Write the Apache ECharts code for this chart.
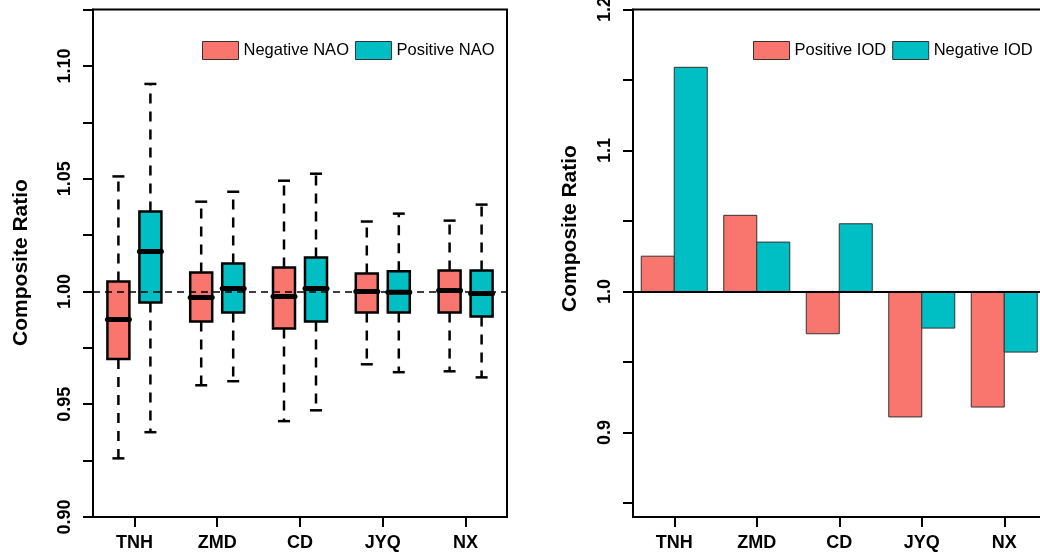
<!DOCTYPE html>
<html>
<head>
<meta charset="utf-8">
<script src="https://cdn.jsdelivr.net/npm/echarts@6/dist/echarts.min.js"></script>
<style>
html,body{margin:0;padding:0;background:#fff;}
#chart{width:1040px;height:559px;}
</style>
</head>
<body>
<div id="chart"></div>
<script>
// ---------- data ----------
const categories = ['TNH', 'ZMD', 'CD', 'JYQ', 'NX'];
// box stats: [min, q1, median, q3, max]
const negativeNAO = [
  [0.926, 0.970, 0.9876, 1.0044, 1.051],
  [0.9584, 0.9867, 0.9973, 1.0084, 1.0398],
  [0.9425, 0.9836, 0.9978, 1.0106, 1.0491],
  [0.9677, 0.9907, 1.0000, 1.0080, 1.0310],
  [0.9646, 0.9907, 1.0004, 1.0093, 1.0314]
];
const positiveNAO = [
  [0.9376, 0.9951, 1.0177, 1.0354, 1.092],
  [0.9602, 0.9907, 1.0013, 1.0124, 1.0442],
  [0.9473, 0.9867, 1.0013, 1.0150, 1.0522],
  [0.9642, 0.9907, 0.9996, 1.0089, 1.0345],
  [0.9619, 0.9889, 0.9991, 1.0093, 1.0385]
];
const positiveIOD = [1.025, 1.054, 0.970, 0.911, 0.918];
const negativeIOD = [1.159, 1.035, 1.048, 0.974, 0.957];

const naoTicks = [0.9, 0.925, 0.95, 0.975, 1.0, 1.025, 1.05, 1.075, 1.1, 1.125];
const naoLabels = [0.9, 0.95, 1.0, 1.05, 1.1];
const iodTicks = [0.85, 0.9, 0.95, 1.0, 1.05, 1.1, 1.15, 1.2];
const iodLabels = [0.9, 1.0, 1.1, 1.2];
const naoReference = 1.0;
const iodBaseline = 1.0;

// ---------- styles ----------
const RED = '#F8766D';
const TEAL = '#00BFC4';
const FONT = 'Liberation Sans, Arial, Helvetica, sans-serif';

function boxRenderer(offset, color) {
  return function (params, api) {
    const i = api.value(0);
    const cx = api.coord([i, api.value(3)])[0] + offset;
    const yMin = api.coord([i, api.value(1)])[1];
    const yQ1 = api.coord([i, api.value(2)])[1];
    const yMed = api.coord([i, api.value(3)])[1];
    const yQ3 = api.coord([i, api.value(4)])[1];
    const yMax = api.coord([i, api.value(5)])[1];
    const hw = 11, capHw = 6;
    const dash = {stroke: '#000', lineWidth: 2.5, lineDash: [10, 8], fill: null};
    const solid = {stroke: '#000', lineWidth: 2.5, fill: null};
    return {
      type: 'group',
      children: [
        {type: 'line', shape: {x1: cx, y1: yQ3, x2: cx, y2: yMax}, style: dash},
        {type: 'line', shape: {x1: cx, y1: yQ1, x2: cx, y2: yMin}, style: dash},
        {type: 'line', shape: {x1: cx - capHw, y1: yMax, x2: cx + capHw, y2: yMax}, style: solid},
        {type: 'line', shape: {x1: cx - capHw, y1: yMin, x2: cx + capHw, y2: yMin}, style: solid},
        {type: 'rect', shape: {x: cx - hw, y: yQ3, width: 2 * hw, height: yQ1 - yQ3},
          style: {fill: color, stroke: '#000', lineWidth: 2.5}},
        {type: 'line', shape: {x1: cx - hw, y1: yMed, x2: cx + hw, y2: yMed},
          style: {stroke: '#000', lineWidth: 5, lineCap: 'round', fill: null}}
      ]
    };
  };
}

function barRenderer(offset, color) {
  return function (params, api) {
    const i = api.value(0);
    const base = api.coord([i, iodBaseline]);
    const top = api.coord([i, api.value(1)]);
    const w = 33;
    const cx = base[0] + offset;
    const y0 = Math.min(base[1], top[1]);
    const h = Math.abs(base[1] - top[1]);
    return {
      type: 'rect',
      shape: {x: cx - w / 2, y: y0, width: w, height: h},
      style: {fill: color, stroke: '#333', lineWidth: 1}
    };
  };
}

const xAxisCommon = {
  type: 'category',
  data: categories,
  boundaryGap: true,
  axisLine: {show: true, lineStyle: {color: '#000', width: 2}},
  axisTick: {show: true, alignWithLabel: true, length: 10, lineStyle: {color: '#000', width: 2}},
  axisLabel: {color: '#000', fontWeight: 'bold', fontSize: 18, fontFamily: FONT, margin: 17},
  splitLine: {show: false}
};

const chart = echarts.init(document.getElementById('chart'), null, {renderer: 'canvas'});
chart.setOption({
  animation: false,
  backgroundColor: '#fff',
  textStyle: {fontFamily: FONT},
  grid: [
    {left: 93, top: 9.5, width: 414, height: 507.5, show: true, borderColor: '#000', borderWidth: 2,
      backgroundColor: 'transparent', containLabel: false, outerBoundsMode: 'none'},
    {left: 633, top: 9.5, width: 412.5, height: 507.5, show: true, borderColor: '#000', borderWidth: 2,
      backgroundColor: 'transparent', containLabel: false, outerBoundsMode: 'none'}
  ],
  xAxis: [
    Object.assign({gridIndex: 0}, xAxisCommon),
    Object.assign({gridIndex: 1}, xAxisCommon)
  ],
  yAxis: [
    {
      gridIndex: 0, type: 'value', min: 0.9, max: 1.125,
      splitLine: {show: false},
      axisLine: {show: true, lineStyle: {color: '#000', width: 2}},
      axisTick: {show: true, length: 10, customValues: naoTicks, lineStyle: {color: '#000', width: 2}},
      axisLabel: {customValues: naoLabels, rotate: 90, color: '#000', fontWeight: 'bold', fontSize: 18, fontFamily: FONT, margin: 19,
        formatter: v => Number(v).toFixed(2)}
    },
    {
      gridIndex: 1, type: 'value', min: 0.84, max: 1.2,
      splitLine: {show: false},
      axisLine: {show: true, lineStyle: {color: '#000', width: 2}},
      axisTick: {show: true, length: 10, customValues: iodTicks, lineStyle: {color: '#000', width: 2}},
      axisLabel: {customValues: iodLabels, rotate: 90, color: '#000', fontWeight: 'bold', fontSize: 18, fontFamily: FONT, margin: 19,
        formatter: v => Number(v).toFixed(1)}
    }
  ],
  legend: [
    {
      left: 202, top: 41, padding: 0, itemWidth: 36, itemHeight: 18, itemGap: 6, icon: 'rect',
      textStyle: {color: '#000', fontSize: 16.5, fontFamily: FONT},
      data: [
        {name: 'Negative NAO', itemStyle: {color: RED, borderColor: '#333', borderWidth: 1}},
        {name: 'Positive NAO', itemStyle: {color: TEAL, borderColor: '#333', borderWidth: 1}}
      ]
    },
    {
      left: 753, top: 41, padding: 0, itemWidth: 36, itemHeight: 18, itemGap: 6, icon: 'rect',
      textStyle: {color: '#000', fontSize: 16.5, fontFamily: FONT},
      data: [
        {name: 'Positive IOD', itemStyle: {color: RED, borderColor: '#333', borderWidth: 1}},
        {name: 'Negative IOD', itemStyle: {color: TEAL, borderColor: '#333', borderWidth: 1}}
      ]
    }
  ],
  graphic: [
    {type: 'text', x: 21, y: 262.5, rotation: Math.PI / 2,
      style: {text: 'Composite Ratio', fill: '#000', font: 'bold 21px ' + FONT, textAlign: 'center', textVerticalAlign: 'middle'}},
    {type: 'text', x: 570, y: 228.5, rotation: Math.PI / 2,
      style: {text: 'Composite Ratio', fill: '#000', font: 'bold 21px ' + FONT, textAlign: 'center', textVerticalAlign: 'middle'}}
  ],
  series: [
    {
      name: 'Negative NAO', type: 'custom', xAxisIndex: 0, yAxisIndex: 0,
      itemStyle: {color: RED},
      encode: {x: 0, y: [1, 2, 3, 4, 5]},
      renderItem: boxRenderer(-16, RED),
      data: negativeNAO.map((d, i) => [i].concat(d))
    },
    {
      name: 'Positive NAO', type: 'custom', xAxisIndex: 0, yAxisIndex: 0,
      itemStyle: {color: TEAL},
      encode: {x: 0, y: [1, 2, 3, 4, 5]},
      renderItem: boxRenderer(16, TEAL),
      data: positiveNAO.map((d, i) => [i].concat(d))
    },
    {
      name: 'refNAO', type: 'line', xAxisIndex: 0, yAxisIndex: 0, data: [], z: 10,
      markLine: {silent: true, symbol: ['none', 'none'], label: {show: false},
        lineStyle: {color: '#000', width: 1.5, type: [7, 5]},
        data: [{yAxis: naoReference}]}
    },
    {
      name: 'Positive IOD', type: 'custom', xAxisIndex: 1, yAxisIndex: 1,
      itemStyle: {color: RED},
      encode: {x: 0, y: 1},
      renderItem: barRenderer(-16.5, RED),
      data: positiveIOD.map((v, i) => [i, v])
    },
    {
      name: 'Negative IOD', type: 'custom', xAxisIndex: 1, yAxisIndex: 1,
      itemStyle: {color: TEAL},
      encode: {x: 0, y: 1},
      renderItem: barRenderer(16.5, TEAL),
      data: negativeIOD.map((v, i) => [i, v])
    },
    {
      name: 'refIOD', type: 'line', xAxisIndex: 1, yAxisIndex: 1, data: [], z: 10,
      markLine: {silent: true, symbol: ['none', 'none'], label: {show: false},
        lineStyle: {color: '#000', width: 2, type: 'solid'},
        data: [{yAxis: iodBaseline}]}
    }
  ]
});
</script>
</body>
</html>
